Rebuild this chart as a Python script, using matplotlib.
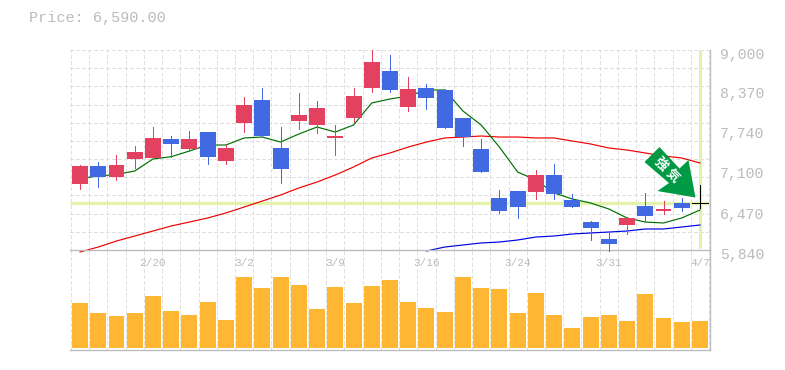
import numpy as np
import matplotlib
matplotlib.use("Agg")
import matplotlib.pyplot as plt
from matplotlib.patches import Polygon
from matplotlib.transforms import ScaledTranslation

title_text = "Price: 6,590.00"
price_ticks = [9000, 8370, 7740, 7110, 6470, 5840]
price_labels = ["9,000", "8,370", "7,740", "7,100", "6,470", "5,840"]
date_idx = [4, 9, 14, 19, 24, 29, 34]
date_labels = ["2/20", "3/2", "3/9", "3/16", "3/24", "3/31", "4/7"]

opens = [6883, 7167, 6993, 7278, 7294, 7594, 7436, 7704, 7246, 7847, 8210, 7452, 7878, 7815, 7610, 7926, 8400, 8668,
         8099, 8400, 8368, 7926, 7436, 6662, 6772, 6756, 7025, 6630, 6282, 6014, 6235, 6535, 6456, 6583, 6590]
closes = [7167, 6993, 7183, 7388, 7610, 7515, 7594, 7309, 7452, 8131, 7641, 7120, 7973, 8084, 7641, 8273, 8810, 8368,
          8384, 8242, 7768, 7625, 7072, 6456, 6519, 7025, 6725, 6519, 6188, 5935, 6346, 6377, 6488, 6504, 6590]
highs = [7183, 7230, 7341, 7483, 7783, 7641, 7720, 7704, 7499, 8257, 8400, 7783, 8321, 8194, 7815, 8400, 9000, 8921,
         8573, 8463, 8384, 7926, 7594, 6788, 6772, 7104, 7199, 6725, 6298, 6124, 6346, 6741, 6614, 6662, 6867]
lows = [6804, 6835, 6946, 7136, 7294, 7309, 7404, 7199, 7199, 7704, 7641, 6899, 7752, 7689, 7341, 7862, 8336, 8336,
        8036, 8068, 7768, 7483, 7072, 6425, 6346, 6646, 6646, 6519, 5998, 5824, 6093, 6298, 6409, 6456, 6504]
ma_short = [6970, 7009, 7033, 7088, 7278, 7314, 7404, 7499, 7499, 7610, 7625, 7546, 7673, 7783, 7704, 7815, 8163, 8226,
            8273, 8368, 8368, 8036, 7815, 7467, 7072, 6946, 6741, 6646, 6583, 6488, 6346, 6282, 6267, 6346, 6472]
ma_mid = [5808, 5887, 5982, 6061, 6140, 6219, 6282, 6346, 6425, 6519, 6614, 6709, 6820, 6914, 7025, 7151, 7294, 7373,
          7467, 7546, 7610, 7625, 7641, 7625, 7625, 7610, 7610, 7562, 7515, 7452, 7420, 7373, 7325, 7294, 7215]
ma_long = [np.nan] * 19 + [5824, 5887, 5919, 5951, 5966, 5998, 6045, 6061, 6093, 6109, 6124, 6140, 6172, 6172, 6203, 6235]
volumes = [136, 106, 97, 106, 157, 112, 100, 139, 85, 214, 181, 214, 190, 118, 184, 136, 187, 205,
           139, 121, 109, 214, 181, 178, 106, 166, 100, 61, 94, 100, 82, 163, 91, 79, 82]
current_price = 6590
badge_text = "強 気"

RED = "#e24260"
BLUE = "#4169e1"
BAND = "#e2f2a8"
GRID = "#e0e0e0"
AXC = "#bdbdbd"
TXT = "#bbbbbb"
W, H = 785, 370
PX = 0.72
MONO = "Liberation Mono"

fig = plt.figure(figsize=(W / 100, H / 100), dpi=100, facecolor="white")
ax = fig.add_axes([70 / W, 1 - 250 / H, 640 / W, 200 / H])
vx = fig.add_axes([70 / W, 1 - 350 / H, 640 / W, 100 / H], sharex=ax)
ax.set_zorder(3)
ax.patch.set_alpha(0)

x = np.arange(len(closes))
ax.set_xlim(-0.55, 34.55)
ax.set_ylim(5840, 9000)
vx.set_ylim(-5, 295)
grid_x = np.arange(-0.5, 35, 1)

for a in (ax, vx):
    a.set_axisbelow(True)
    a.vlines(grid_x, 0, 1, transform=a.get_xaxis_transform(), color=GRID, lw=PX,
             linestyles=(0, (3, 2.5)), zorder=0.5, antialiased=False)
    for s in a.spines.values():
        s.set_visible(False)
    for side in ("right", "bottom"):
        a.spines[side].set_visible(True)
        a.spines[side].set_color(AXC)
        a.spines[side].set_linewidth(1.0)

ax.hlines(np.linspace(5840, 9000, 12)[1:], 0, 1, transform=ax.get_yaxis_transform(), color=GRID, lw=PX,
          linestyles=(0, (3, 2.5)), zorder=0.5, antialiased=False, clip_on=False)

ax.axhline(current_price, color=BAND, lw=2.3, zorder=1, solid_capstyle="butt")
ax.plot([x[-1], x[-1]], [5870, 9000], color=BAND, lw=2.3, zorder=1, solid_capstyle="butt")

ax.plot(x, ma_long, color="#0000e0", lw=0.85, zorder=2, clip_on=False)
ax.plot(x, ma_mid, color="#ee0000", lw=0.85, zorder=2, clip_on=False)
ax.plot(x, ma_short, color="#007000", lw=0.85, zorder=2)

for i in x:
    o, c = opens[i], closes[i]
    col = RED if c > o else (BLUE if c < o else "black")
    ax.vlines(i, lows[i], highs[i], color=col, lw=PX, zorder=3, antialiased=False, clip_on=False)
    if c == o:
        ax.hlines(c, i - 0.44, i + 0.44, color=col, lw=PX, zorder=3, antialiased=False)
    else:
        ax.bar(i, abs(c - o), bottom=min(o, c), width=0.877, color=col, lw=0, zorder=3, antialiased=False)

vx.bar(x, volumes, width=0.877, color="#ffb733", lw=0, zorder=2, antialiased=False)

# badge arrow: outline is in pixels relative to the last candle's close
shape = np.array([[-40.5, -55.5], [-55.5, -40.5], [-31, -19.5], [-42.5, -11.5], [-4.5, -5],
                  [-11.5, -42.5], [-20.5, -34]])
base = ax.transData.transform((x[-1], current_price))
poly_px = np.column_stack([base[0] + shape[:, 0], base[1] - shape[:, 1]])
ax.add_patch(Polygon(poly_px, closed=True, transform=None, facecolor="#009944", edgecolor="none", zorder=5))
cx, cy = base[0] - 33, base[1] + 32.5
fig.text(cx / W, cy / H, badge_text, family=["Noto Sans CJK JP", "DejaVu Sans"], color="white", fontsize=9.5,
         weight="bold", rotation=-45, ha="center", va="center", rotation_mode="anchor", zorder=6)

ax.yaxis.tick_right()
ax.set_yticks(price_ticks, price_labels)
ax.tick_params(axis="y", length=0, pad=7, labelsize=10.6, labelcolor=TXT)
for t in ax.get_yticklabels():
    t.set_family(MONO)
    t.set_transform(t.get_transform() + ScaledTranslation(0, -3 / 100, fig.dpi_scale_trans))
ax.tick_params(axis="x", length=0, labelbottom=False, labeltop=False)

vx.set_yticks([])
vx.set_xticks(date_idx, date_labels)
vx.tick_params(axis="x", length=0, bottom=False, top=False, labelbottom=False, labeltop=True,
               pad=-13.2, labelsize=8.0, labelcolor=TXT)
for t in vx.xaxis.get_major_ticks():
    t.label2.set_family(MONO)

fig.text(29 / W, 1 - 18 / H, title_text, family=MONO, fontsize=10.9, color=TXT, ha="left", va="center")
fig.savefig("out.png", dpi=100)
